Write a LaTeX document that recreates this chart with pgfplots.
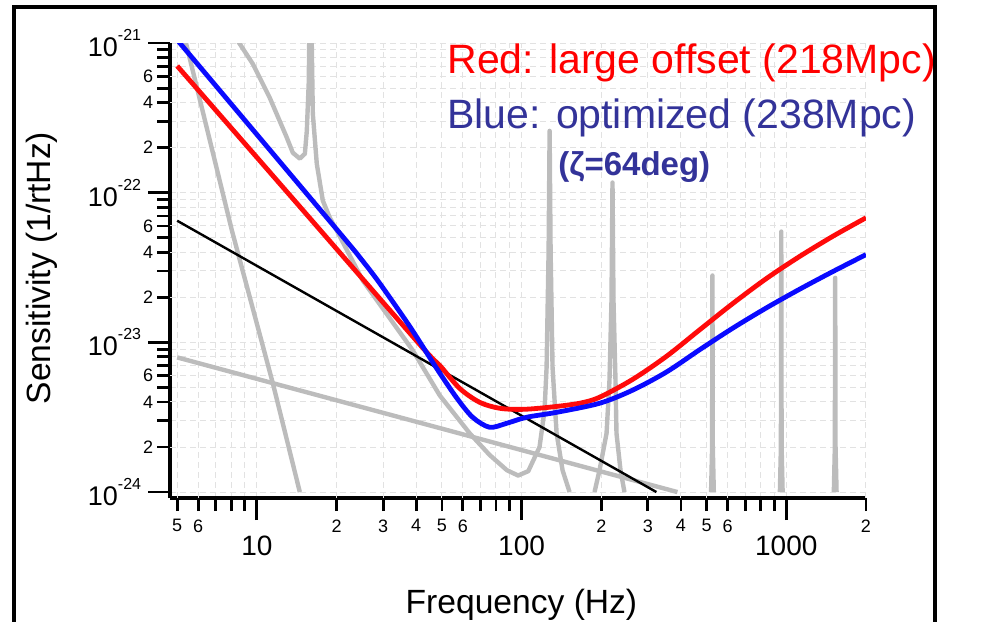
\documentclass[border=0pt]{standalone}
\usepackage{pgfplots}
\pgfplotsset{compat=1.18}
\usepackage{fontspec}
\setmainfont{Liberation Sans}
\definecolor{curvegray}{RGB}{188,188,188}
\definecolor{navytext}{RGB}{51,51,153}
\definecolor{gridgray}{RGB}{226,226,226}
\definecolor{curvered}{RGB}{255,10,10}
\definecolor{curveblue}{RGB}{10,10,255}
\newcommand{\tenexp}[1]{10\raisebox{8pt}{\fontsize{8}{8}\selectfont #1}}
\begin{document}
\begin{tikzpicture}
\useasboundingbox (0,0) rectangle (501.5pt,-311pt);
\begin{axis}[
  at={(85pt,-249pt)}, anchor=south west,
  scale only axis, width=348pt, height=227.5pt,
  xmode=log, ymode=log,
  xmin=4.697, xmax=2000, ymin=9.12e-25, ymax=1e-21,
  axis lines=left, axis line style={-, line width=1.8pt},
  tick align=outside,
  major tick length=11pt, minor tick length=6.5pt,
  every tick/.style={black, line width=1.4pt},
  xtick={10,100,1000}, xticklabels={10,100,1000},
  xticklabel style={font=\fontsize{14}{15}\selectfont, yshift=-4.5pt},
  minor xtick={7,8,9,70,80,90,700,800,900},
  extra x ticks={5,6,20,30,40,50,60,200,300,400,500,600,2000},
  extra x tick labels={5,6,2,3,4,5,6,2,3,4,5,6,2},
  extra x tick style={grid=major, major tick length=6.5pt,
     xticklabel style={font=\fontsize{9}{10}\selectfont, yshift=3.8pt}},
  ytick={1e-24,1e-23,1e-22,1e-21},
  yticklabels={\tenexp{-24},\tenexp{-23},\tenexp{-22},\tenexp{-21}},
  yticklabel style={font=\fontsize{13.5}{14}\selectfont},
  minor ytick={3e-24,5e-24,7e-24,8e-24,9e-24,3e-23,5e-23,7e-23,8e-23,9e-23,3e-22,5e-22,7e-22,8e-22,9e-22},
  extra y ticks={2e-24,4e-24,6e-24,2e-23,4e-23,6e-23,2e-22,4e-22,6e-22},
  extra y tick labels={2,4,6,2,4,6,2,4,6},
  extra y tick style={grid=major, major tick length=6.5pt,
     yticklabel style={font=\fontsize{9}{10}\selectfont, xshift=1.5pt}},
  grid=both,
  major grid style={gridgray, dash pattern=on 3pt off 2pt, line width=0.5pt},
  minor grid style={gridgray, dash pattern=on 3pt off 2pt, line width=0.5pt},
  xlabel={Frequency (Hz)},
  xlabel style={font=\fontsize{16.8}{18}\selectfont, at={(axis description cs:0.505,-0.2527)}, anchor=base},
  ylabel={Sensitivity (1/rtHz)},
  ylabel style={font=\fontsize{16.8}{18}\selectfont, at={(axis description cs:-0.1724,0.5055)}, anchor=base},
]
% seismic (steep gray)
\addplot[curvegray, line width=2.2pt, line join=round] coordinates {
 (5,1.74e-21) (8.05,5.58e-23) (11.49,5.33e-24) (14.53,1e-24)};
% shallow gray
\addplot[curvegray, line width=2.2pt] coordinates {(5,7.94e-24) (388,1e-24)};
% thermal with resonances, part 1
\addplot[curvegray, line width=2.2pt, line join=round] coordinates {
 (7.57,1.40e-21) (8.63,9.84e-22) (9.66,7.24e-22) (11.19,4.30e-22) (12.98,2.33e-22)
 (13.67,1.85e-22) (14.53,1.69e-22) (15.18,1.82e-22) (15.44,2.59e-22) (15.71,5.58e-22)
 (15.85,3e-21) (16.12,9.84e-22) (16.27,3.37e-22) (16.84,1.56e-22) (17.75,8.85e-23)
 (18.86,6.81e-23) (20.04,5.58e-23) (25.12,2.59e-23) (32.61,1.36e-23) (38.80,8.85e-24)
 (49.04,4.43e-24) (63.66,2.47e-24) (75.72,1.77e-24) (88.0,1.40e-24) (97.0,1.29e-24) (106.0,1.38e-24)
 (116.9,2.0e-24) (122.1,3.52e-24) (124.3,6.81e-24) (126.5,4.10e-23) (127.6,2.59e-22)
 (128.7,4.10e-23) (130.9,6.81e-24) (135.6,2.47e-24) (142.8,1.40e-24) (151.8,1e-24)};
% part 2
\addplot[curvegray, line width=2.2pt, line join=round] coordinates {
 (188.6,1e-24) (197.0,1.40e-24) (209.4,2.47e-24) (214.8,5.58e-24) (218.6,1.91e-23)
 (220.5,1.17e-22) (222.4,1.91e-23) (226.3,5.58e-24) (228.3,2.47e-24) (236.4,1.40e-24) (244.7,1e-24)};
% narrow spikes
\addplot[curvegray, line width=2.2pt, line join=round] coordinates {
 (519.8,1e-24) (524.4,2e-24) (526,2.8e-23) (527.6,2e-24) (532.3,1e-24)};
\addplot[curvegray, line width=2.2pt, line join=round] coordinates {
 (945.7,1e-24) (954.1,2e-24) (957,5.5e-23) (959.9,2e-24) (968.5,1e-24)};
\addplot[curvegray, line width=2.2pt, line join=round] coordinates {
 (1511.9,1e-24) (1525.4,2e-24) (1530,2.7e-23) (1534.6,2e-24) (1548.4,1e-24)};
% black line
\addplot[black, line width=1.2pt] coordinates {(5,6.5e-23) (323.1,1e-24)};
% red
\addplot[curvered, line width=2.4pt, smooth, tension=0.5] coordinates {
 (5,7.03e-22) (14.53,8.07e-23) (41.21,9.70e-24) (49.04,7.03e-24) (58.36,4.93e-24)
 (69.43,3.98e-24) (82.61,3.63e-24) (100.9,3.57e-24) (127.6,3.69e-24) (165.5,3.92e-24)
 (197.0,4.30e-24) (262.3,5.65e-24) (352.6,8.07e-24) (469.6,1.21e-23) (625.6,1.81e-23)
 (840.6,2.67e-23) (1119.7,3.74e-23) (1491.4,5.09e-23) (2000,6.8e-23)};
% blue
\addplot[curveblue, line width=2.4pt, smooth, tension=0.5] coordinates {
 (5,1.05e-21) (20.21,5.58e-23) (25.0,3.53e-23) (29.12,2.48e-23) (37.79,1.28e-23) (47.78,6.70e-24)
 (56.86,4.26e-24) (65.34,3.16e-24) (75.72,2.71e-24) (87.79,2.88e-24) (104.4,3.16e-24)
 (135.6,3.41e-24) (197.0,3.92e-24) (262.3,4.79e-24) (352.6,6.34e-24) (469.6,8.91e-24)
 (625.6,1.24e-23) (840.6,1.70e-23) (1119.7,2.26e-23) (1491.4,2.96e-23) (2000,3.86e-23)};
\end{axis}
\node[anchor=base west, inner sep=0, text=red, font=\fontsize{20.5}{24}\selectfont] at (223.5pt,-36.5pt) {Red: large offset (218Mpc)};
\node[anchor=base west, inner sep=0, text=navytext, font=\fontsize{20.5}{24}\selectfont] at (223.5pt,-64pt) {Blue: optimized (238Mpc)};
\node[anchor=base west, inner sep=0, text=navytext, font=\bfseries\fontsize{16.5}{20}\selectfont] at (279pt,-87.5pt) {(ζ=64deg)};
\draw[line width=1.6pt] (7pt,-312pt) -- (7pt,-3.5pt) -- (467.5pt,-3.5pt) -- (467.5pt,-312pt);
\end{tikzpicture}
\end{document}
